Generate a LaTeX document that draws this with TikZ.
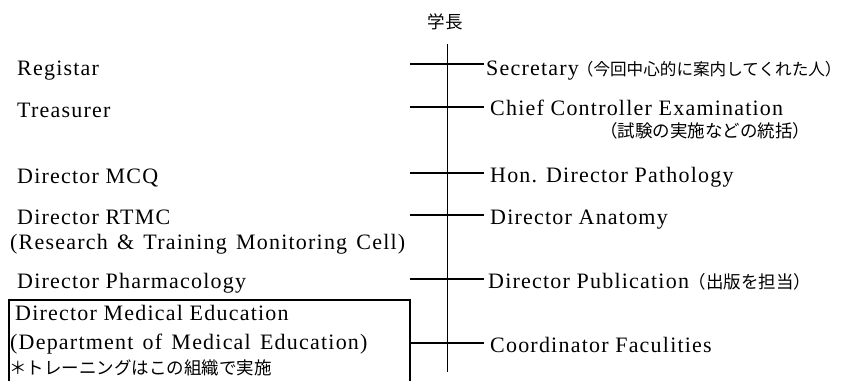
\documentclass[tikz,border=0pt]{standalone}
\usepackage{fontspec}
\setmainfont{Liberation Serif}[LetterSpace=5.5]
\newfontfamily\jpfont{Noto Sans CJK JP}
\newcommand\entext{\fontsize{22}{26}\selectfont}
\newcommand\jptext{\jpfont\fontsize{17.5}{21}\selectfont}
\newcommand\jpsmall{\jpfont\fontsize{16.6}{20}\selectfont}
\newcommand\widewords{\spaceskip=0.42em\relax}
\begin{document}
\begin{tikzpicture}[x=1pt,y=-1pt,
  lbl/.style={anchor=base west, inner sep=0pt, font=\entext},
  jlbl/.style={anchor=base west, inner sep=0pt, font=\jptext},
  rule/.style={line width=1.1pt},
  trunk/.style={line width=1.4pt},
  frame/.style={line width=1.1pt}]
\useasboundingbox (0,0) rectangle (853,381);

% head of the chart
\node[inner sep=0pt, font=\jptext] (head) at (445,22) {学長};

% vertical trunk
\coordinate (top) at (447.5,44);
\coordinate (bot) at (447.5,372);
\draw[trunk] (top) -- (bot);

% junctions on the trunk
\coordinate (j1) at (447.5,64);
\coordinate (j2) at (447.5,107);
\coordinate (j3) at (447.5,173);
\coordinate (j4) at (447.5,215);
\coordinate (j5) at (447.5,279);
\coordinate (j6) at (447.5,343);

% stub ends, left and right
\foreach \i in {1,...,5} { \coordinate (l\i) at (410,0 |- j\i); }
\foreach \i in {1,...,6} { \coordinate (r\i) at (484,0 |- j\i); }

% left-hand posts
\node[lbl] (reg)  at (17,75)  {Registar};
\node[lbl] (trs)  at (17,117) {Treasurer};
\node[lbl] (mcq)  at (17,183) {Director MCQ};
\node[lbl] (rtmc) at (17,224) {Director RTMC};
\node[lbl] (rtmcx) at (10,249) {\widewords(Research \& Training Monitoring Cell)};
\node[lbl] (pharm) at (17,288) {Director Pharmacology};

% boxed department
\node[lbl] (dme)  at (15,320) {Director Medical Education};
\node[lbl] (dmex) at (10,349) {\widewords(Department of Medical Education)};
\node[jlbl] (dmej) at (9,374) {＊トレーニングはこの組織で実施};
\coordinate (boxbl) at (9,381);
\coordinate (boxtr) at (410,300);
\draw[frame] (boxbl) |- (boxtr) -- (boxtr |- boxbl);

% right-hand posts
\node[lbl] (sec)  at (486,75)  {Secretary{\jpsmall\kern-2pt （今回中心的に案内してくれた人）}};
\node[lbl] (cce)  at (490,115) {Chief Controller Examination};
\node[jlbl] (ccej) at (600,137) {（試験の実施などの統括）};
\node[lbl] (path) at (490,182) {Hon. Director Pathology};
\node[lbl] (anat) at (490,224) {Director Anatomy};
\node[lbl] (pub)  at (488,288) {Director Publication{\jptext （出版を担当）}};
\node[lbl] (coord) at (490,352) {Coordinator Faculities};

% branches
\foreach \i in {1,...,5} { \draw[rule] (l\i) -- (j\i) -- (r\i); }
\draw[rule] (boxtr |- j6) -- (j6) -- (r6);
\end{tikzpicture}
\end{document}
